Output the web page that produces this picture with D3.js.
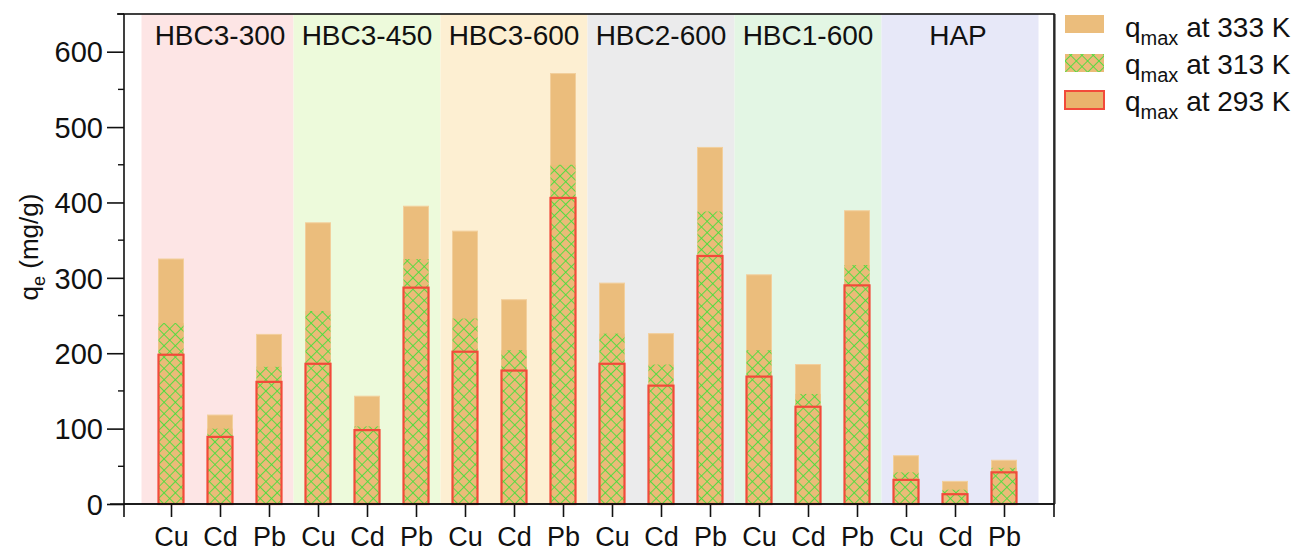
<!DOCTYPE html>
<html>
<head>
<meta charset="utf-8">
<script src="https://cdn.jsdelivr.net/npm/d3@7"></script>
<style>
  body { margin: 0; background: #fff; }
  text { font-family: "Liberation Sans", Arial, sans-serif; fill: #111; }
</style>
</head>
<body>
<svg id="chart" width="1298" height="553"></svg>
<script>
'use strict';

var groups = ['HBC3-300', 'HBC3-450', 'HBC3-600', 'HBC2-600', 'HBC1-600', 'HAP'];
var groupColors = ['#fde5e5', '#edfadb', '#fdefd2', '#ebebec', '#e3f6e4', '#e7e8f8'];
var metals = ['Cu', 'Cd', 'Pb'];
var q333 = [325, 118, 225, 373, 143, 395, 362, 271, 571, 293, 226, 473, 304, 185, 389, 64, 30, 58];
var q313 = [240, 100, 182, 256, 103, 325, 246, 204, 450, 226, 185, 388, 204, 146, 317, 42, 19, 48];
var q293 = [198, 89, 162, 186, 98, 287, 202, 177, 406, 186, 157, 329, 169, 129, 290, 32, 13, 42];
var yTicks = [0, 100, 200, 300, 400, 500, 600];
var legendLabels = ['333 K', '313 K', '293 K'];

var svg = d3.select('#chart');
var pLeft = 124, pRight = 1054, pTop = 14, pBottom = 504;
var barW = 25;

var cats = [];
groups.forEach(function (g, gi) {
  metals.forEach(function (m, mi) {
    cats.push({ id: gi * 3 + mi, group: g, gi: gi, metal: m });
  });
});

var x = d3.scalePoint().domain(cats.map(function (d) { return d.id; })).range([171, 1004]);
var y = d3.scaleLinear().domain([0, 650]).range([pBottom, pTop]);
var step = x.step();

// hatch pattern
var defs = svg.append('defs');
var pat = defs.append('pattern')
  .attr('id', 'hatch')
  .attr('patternUnits', 'userSpaceOnUse')
  .attr('width', 8).attr('height', 8)
  .attr('patternTransform', 'rotate(45)');
pat.append('rect').attr('width', 8).attr('height', 8).attr('fill', '#ebbb78');
pat.append('line').attr('x1', 0).attr('y1', 0).attr('x2', 8).attr('y2', 0)
  .attr('stroke', '#3fe03a').attr('stroke-width', 1.7);
pat.append('line').attr('x1', 0).attr('y1', 0).attr('x2', 0).attr('y2', 8)
  .attr('stroke', '#3fe03a').attr('stroke-width', 1.7);

// background bands
svg.append('g').selectAll('rect')
  .data(groups)
  .enter().append('rect')
  .attr('x', function (d, i) {
    var x0 = x(i * 3) - step / 2;
    return i === 0 ? x0 - 5 : x0;
  })
  .attr('width', function (d, i) {
    var x0 = x(i * 3) - step / 2, x1 = x(i * 3 + 2) + step / 2;
    if (i === 0) return x1 - x0 + 5;
    if (i === groups.length - 1) return x1 - x0 + 10;
    return x1 - x0;
  })
  .attr('y', pTop)
  .attr('height', pBottom - pTop)
  .attr('fill', function (d, i) { return groupColors[i]; });

// group labels
svg.append('g').selectAll('text')
  .data(groups)
  .enter().append('text')
  .attr('x', function (d, i) { return (x(i * 3) + x(i * 3 + 2)) / 2 + (i === groups.length - 1 ? 3 : 0); })
  .attr('y', 45)
  .attr('text-anchor', 'middle')
  .style('font-size', '28px')
  .text(function (d) { return d; });

// bars
var bars = svg.append('g');
bars.selectAll('.b333').data(cats).enter().append('rect')
  .attr('class', 'b333')
  .attr('x', function (d) { return x(d.id) - barW / 2; })
  .attr('width', barW)
  .attr('y', function (d) { return y(q333[d.id]); })
  .attr('height', function (d) { return pBottom - y(q333[d.id]); })
  .attr('fill', '#ebbd7c')
  .attr('stroke', '#f2cf9c').attr('stroke-width', 1);

bars.selectAll('.b313').data(cats).enter().append('rect')
  .attr('class', 'b313')
  .attr('x', function (d) { return x(d.id) - barW / 2; })
  .attr('width', barW)
  .attr('y', function (d) { return y(q313[d.id]); })
  .attr('height', function (d) { return pBottom - y(q313[d.id]); })
  .attr('fill', 'url(#hatch)');

bars.selectAll('.b293').data(cats).enter().append('rect')
  .attr('class', 'b293')
  .attr('x', function (d) { return x(d.id) - barW / 2; })
  .attr('width', barW)
  .attr('y', function (d) { return y(q293[d.id]); })
  .attr('height', function (d) { return pBottom - y(q293[d.id]); })
  .attr('fill', 'none')
  .attr('stroke', '#f24a3a').attr('stroke-width', 2.2);

// frame
svg.append('rect')
  .attr('x', pLeft).attr('y', pTop)
  .attr('width', pRight - pLeft).attr('height', pBottom - pTop)
  .attr('fill', 'none').attr('stroke', '#111').attr('stroke-width', 1.6);
svg.append('line').attr('x1', pRight + 1).attr('x2', pRight + 1).attr('y1', pTop).attr('y2', pBottom)
  .attr('stroke', '#111').attr('stroke-width', 1);

// y axis
var yAxis = d3.axisLeft(y).tickValues(yTicks).tickSize(17).tickPadding(4);
var gy = svg.append('g').attr('transform', 'translate(' + pLeft + ',0)').call(yAxis);
gy.select('.domain').remove();
gy.selectAll('line').attr('stroke', '#111').attr('stroke-width', 1.6);
gy.selectAll('text').style('font-size', '29px')
  .style('font-family', '"Liberation Sans", Arial, sans-serif').attr('fill', '#111').attr('dy', '0.35em');

var minor = d3.range(50, 650, 100).concat([650]);
svg.append('g').selectAll('line').data(minor).enter().append('line')
  .attr('x1', pLeft - 6).attr('x2', pLeft)
  .attr('y1', function (d) { return y(d); }).attr('y2', function (d) { return y(d); })
  .attr('stroke', '#111').attr('stroke-width', 1.4);

// x axis
var xAxis = d3.axisBottom(x).tickSize(13).tickPadding(10)
  .tickFormat(function (d) { return cats[d].metal; });
var gx = svg.append('g').attr('transform', 'translate(0,' + pBottom + ')').call(xAxis);
gx.select('.domain').remove();
gx.selectAll('line').attr('stroke', '#111').attr('stroke-width', 1.6);
gx.selectAll('text').style('font-size', '27px')
  .style('font-family', '"Liberation Sans", Arial, sans-serif').attr('fill', '#111');
svg.append('line').attr('x1', 110).attr('x2', pRight).attr('y1', pBottom).attr('y2', pBottom)
  .attr('stroke', '#111').attr('stroke-width', 1.6);
[pLeft, pRight].forEach(function (px) {
  svg.append('line').attr('x1', px).attr('x2', px).attr('y1', pBottom).attr('y2', pBottom + 13)
    .attr('stroke', '#111').attr('stroke-width', 1.6);
});
svg.append('line').attr('x1', 117).attr('x2', pLeft).attr('y1', pTop).attr('y2', pTop)
  .attr('stroke', '#111').attr('stroke-width', 1.6);

// y label
var yl = svg.append('text')
  .attr('transform', 'translate(38,247) rotate(-90)')
  .attr('text-anchor', 'middle')
  .style('font-size', '26px');
yl.append('tspan').text('q');
yl.append('tspan').attr('dy', 7).style('font-size', '18px').text('e');
yl.append('tspan').attr('dy', -7).text(' (mg/g)');

// legend
var leg = svg.append('g').attr('transform', 'translate(1065,15)');
var legFill = ['#ebbd7c', 'url(#hatch)', '#eab36c'];
legendLabels.forEach(function (lab, i) {
  var ly = i * 37;
  leg.append('rect')
    .attr('x', 0).attr('y', ly + (i === 0 ? 0 : 2)).attr('width', 39).attr('height', 18)
    .attr('fill', legFill[i])
    .attr('stroke', i === 2 ? '#f24a3a' : 'none')
    .attr('stroke-width', 2);
  var t = leg.append('text').attr('x', 60).attr('y', ly + 22).style('font-size', '28px');
  t.append('tspan').text('q');
  t.append('tspan').attr('dy', 8).style('font-size', '20px').text('max');
  t.append('tspan').attr('dy', -8).text(' at ' + lab);
});
</script>
</body>
</html>
